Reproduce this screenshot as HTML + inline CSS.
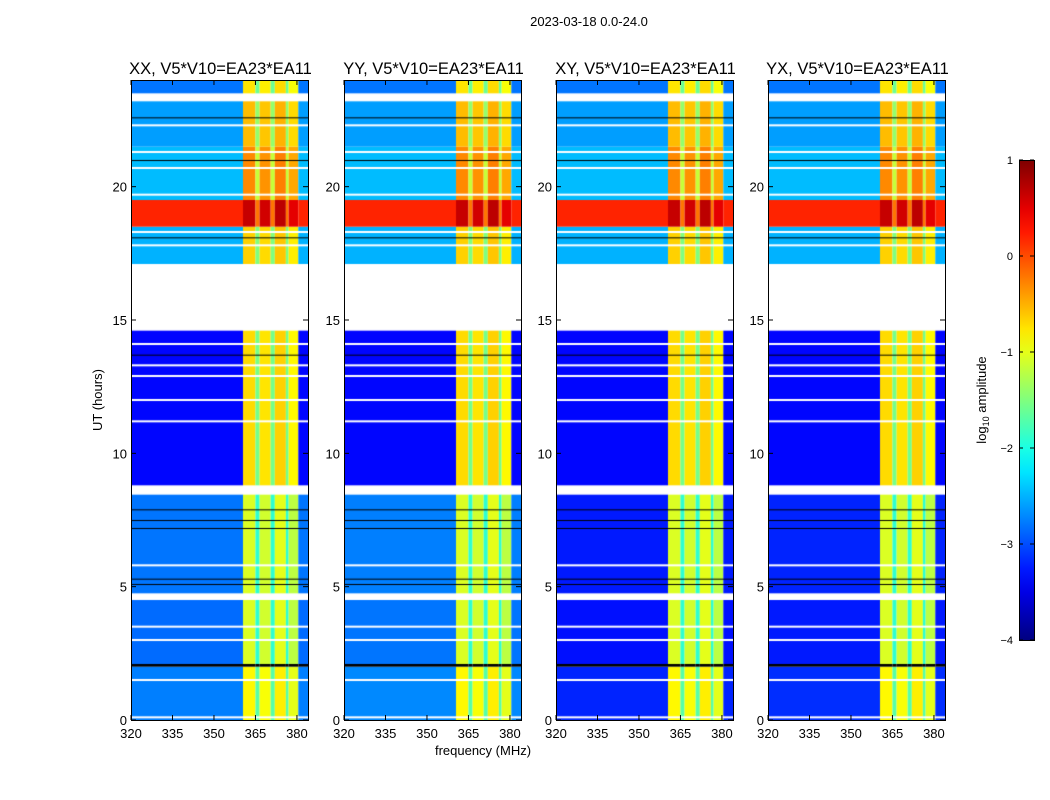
<!DOCTYPE html>
<html><head><meta charset="utf-8"><style>
body{margin:0;background:#fff;font-family:"Liberation Sans","DejaVu Sans",sans-serif;}
#wrap{position:relative;width:1050px;height:800px;overflow:hidden;}
canvas{position:absolute;}
svg{position:absolute;left:0;top:0;}
</style></head><body>
<div id="wrap">
<svg id="ov" width="1050" height="800"></svg>
</div>
<script>
// ---- data ----
const panelTitles = ["XX, V5*V10=EA23*EA11","YY, V5*V10=EA23*EA11","XY, V5*V10=EA23*EA11","YX, V5*V10=EA23*EA11"];
const xTicks = [320,335,350,365,380];
const yTicks = [0,5,10,15,20];
const cbTicks = [1,0,-1,-2,-3,-4];
// time segments: [startHour, endHour, backgroundLevel, bandLevel]  (null = missing data)
const segStart = [0,   2.0, 2.1, 4.5, 4.75, 8.45, 8.8, 14.6, 17.1, 18.5, 19.5, 21.5, 23.2, 23.5];
const segEnd   = [2.0, 2.1, 4.5, 4.75,8.45, 8.8, 14.6, 17.1, 18.5, 19.5, 21.5, 23.2, 23.5, 24];
const segBg    = [-2.75,-4.6,-2.85,null,-2.8,null,-3.35,null,-2.5, 0.2,-2.45,-2.6,null,-2.8];
const segBand  = [-0.9,-4.6,-1.1,null,-1.1,null,-0.75,null,-0.7, 0.6,-0.35,-0.6,null,-0.8];
// per-panel offset for the early (0-8.5h) background
const panelEarlyOffset = [0, 0.05, -0.45, -0.4];
// thin white (missing) and dark lines, in hours
const whiteLines = [0.1,1.5,3.0,3.5,5.8,11.2,12.0,12.9,13.3,14.1,17.8,18.3,19.7,20.7,21.3,22.3];
const darkLines = [5.1,5.3,7.2,7.5,7.9,13.7,18.1,21.0,22.6];
// frequency columns (MHz edges) and their boost relative to band level
const colStart = [320, 360.5, 365, 366.5, 370.5, 372, 376, 377, 380.5];
const colEnd   = [360.5,365, 366.5,370.5, 372, 376, 377, 380.5, 384];
const colBoost = [null, 0.05, -0.8, 0.0, -0.8, 0.1, -0.8, -0.1, null];

// ---- geometry ----
const panelLeft=[131,344,556,768], PW=177, PT=80, PH=640;
const fmin=320,fmax=384,tmin=0,tmax=24;
const xs=(f,i)=>panelLeft[i]+(f-fmin)/(fmax-fmin)*PW;
const ys=t=>PT+PH-(t-tmin)/(tmax-tmin)*PH;

function jet(v){
  let t=(v+4)/5; t=Math.max(0,Math.min(1,t));
  const r=Math.max(0,Math.min(1,1.5-Math.abs(4*t-3)));
  const g=Math.max(0,Math.min(1,1.5-Math.abs(4*t-2)));
  const b=Math.max(0,Math.min(1,1.5-Math.abs(4*t-1)));
  return `rgb(${r*255|0},${g*255|0},${b*255|0})`;
}

const wrap=document.getElementById('wrap');
const NS="http://www.w3.org/2000/svg";
const ov=document.getElementById('ov');
function el(tag,attrs,txt){const e=document.createElementNS(NS,tag);for(const k in attrs)e.setAttribute(k,attrs[k]);if(txt!==undefined)e.textContent=txt;ov.appendChild(e);return e;}

for(let p=0;p<4;p++){
  const c=document.createElement('canvas');
  c.width=PW;c.height=PH;c.style.left=panelLeft[p]+'px';c.style.top=PT+'px';
  
  
  wrap.insertBefore(c,ov);
  const g=c.getContext('2d');
  g.fillStyle='#fff';g.fillRect(0,0,PW,PH);
  for(let s=0;s<segStart.length;s++){
    if(segBg[s]===null)continue;
    const y0=ys(segEnd[s])-PT,y1=ys(segStart[s])-PT;
    for(let k=0;k<colStart.length;k++){
      let v;
      if(colBoost[k]===null){v=segBg[s]; if(segEnd[s]<=8.5&&v>-4.5)v+=panelEarlyOffset[p];}
      else v=segBand[s]<-4?segBand[s]:segBand[s]+colBoost[k];
      g.fillStyle=segBg[s]<-4.5?'#000':jet(v);
      const x0=xs(colStart[k],p)-panelLeft[p],x1=xs(colEnd[k],p)-panelLeft[p];
      g.fillRect(x0,y0,x1-x0,y1-y0);
    }
  }
  g.fillStyle='#fff';
  whiteLines.forEach(t=>g.fillRect(0,ys(t)-PT-1,PW,2));
  g.fillStyle='#000';
  darkLines.forEach(t=>g.fillRect(0,ys(t)-PT,PW,1));

  const fr=el('rect',{x:panelLeft[p]+0.5,y:PT+0.5,width:PW,height:PH,fill:'none',stroke:'#000','stroke-width':1});
  
  const tt=el('text',{x:panelLeft[p]+PW/2+1,y:74,'text-anchor':'middle','font-size':16.5},panelTitles[p]);
  
  xTicks.forEach(f=>{
    const x=xs(f,p);
    el('line',{x1:x,x2:x,y1:PT+PH,y2:PT+PH-5,stroke:'#000'});
    el('line',{x1:x,x2:x,y1:PT,y2:PT+5,stroke:'#000'});
    const t=el('text',{x:x,y:738,'text-anchor':'middle','font-size':13},String(f));
    
  });
  yTicks.forEach(h=>{
    const y=ys(h);
    el('line',{x1:panelLeft[p],x2:panelLeft[p]+5,y1:y,y2:y,stroke:'#000'});
    el('line',{x1:panelLeft[p]+PW,x2:panelLeft[p]+PW-5,y1:y,y2:y,stroke:'#000'});
    const t=el('text',{x:panelLeft[p]-4,y:y+5,'text-anchor':'end','font-size':13},String(h));
    
  });
}
let t;
t=el('text',{x:589,y:26,'text-anchor':'middle','font-size':13},'2023-03-18 0.0-24.0');

t=el('text',{x:483,y:755,'text-anchor':'middle','font-size':13},'frequency (MHz)');

t=el('text',{x:102,y:400,'text-anchor':'middle','font-size':13,transform:'rotate(-90 102 400)'},'UT (hours)');


const defs=el('defs',{});
const lg=document.createElementNS(NS,'linearGradient');
lg.setAttribute('id','jetg');lg.setAttribute('x1','0');lg.setAttribute('y1','1');lg.setAttribute('x2','0');lg.setAttribute('y2','0');
for(let i=0;i<=20;i++){const s=document.createElementNS(NS,'stop');s.setAttribute('offset',i/20);s.setAttribute('stop-color',jet(-4+5*i/20));lg.appendChild(s);}
defs.appendChild(lg);
const cb=el('rect',{x:1019.5,y:160.5,width:15,height:480,fill:'url(#jetg)',stroke:'#000'});

cbTicks.forEach(v=>{
  const y=160+(1-v)/5*480;
  el('line',{x1:1019,x2:1023,y1:y,y2:y,stroke:'#000'});
  el('line',{x1:1034,x2:1030,y1:y,y2:y,stroke:'#000'});
  const l=el('text',{x:1013,y:y+4,'text-anchor':'end','font-size':11},v<0?'\u2212'+(-v):String(v));
  
});
t=el('text',{x:986,y:400,'text-anchor':'middle','font-size':13,transform:'rotate(-90 986 400)'});
t.innerHTML='log<tspan font-size="9" dy="3">10</tspan><tspan dy="-3"> amplitude</tspan>';

</script>
</body></html>
